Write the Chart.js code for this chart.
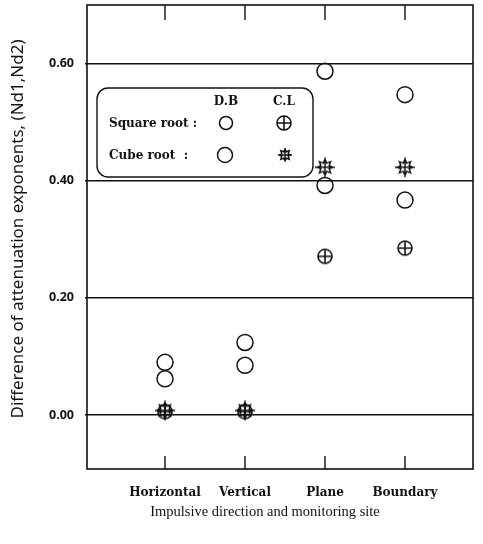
<!DOCTYPE html>
<html>
<head>
<meta charset="utf-8">
<script src="https://cdn.jsdelivr.net/npm/chart.js@4.4.1/dist/chart.umd.min.js"></script>
<style>
  html, body { margin: 0; padding: 0; background: #fff; }
  #wrap { width: 483px; height: 544px; }
</style>
</head>
<body>
<div id="wrap"><canvas id="chart"></canvas></div>
<script>
// Attenuation exponent differences
const categories = ['Horizontal', 'Vertical', 'Plane', 'Boundary'];
const categoryPos = [1, 2, 3, 4];
const squareRootDB = [0.090, 0.124, 0.587, 0.547];
const cubeRootDB = [0.062, 0.085, 0.392, 0.367];
const squareRootCL = [0.006, 0.006, 0.271, 0.285];
const cubeRootCL = [0.008, 0.008, 0.423, 0.423];
const yTickValues = [0.00, 0.20, 0.40, 0.60];

const INK = '#111';
const SERIF = '"Liberation Serif", "DejaVu Serif", serif';
const WIDE_SERIF = '"DejaVu Serif", "Liberation Serif", serif';
const SANS = '"Noto Sans", "DejaVu Sans", sans-serif';

function toPoints(values) {
    return values.map((v, i) => ({ x: categoryPos[i], y: v }));
}

// marker images
function crossedCircle(r) {
    const size = r * 2 + 4;
    const c = document.createElement('canvas');
    c.width = size; c.height = size;
    const ctx = c.getContext('2d');
    const m = size / 2;
    ctx.strokeStyle = INK;
    ctx.lineWidth = 1.6;
    ctx.beginPath();
    ctx.arc(m, m, r, 0, Math.PI * 2);
    ctx.moveTo(m - r, m); ctx.lineTo(m + r, m);
    ctx.moveTo(m, m - r); ctx.lineTo(m, m + r);
    ctx.stroke();
    return c;
}

function burstStar(outer, inner, spoke) {
    const size = spoke * 2 + 4;
    const c = document.createElement('canvas');
    c.width = size; c.height = size;
    const ctx = c.getContext('2d');
    const m = size / 2;
    ctx.strokeStyle = INK;
    ctx.lineWidth = 1.4;
    ctx.beginPath();
    for (let k = 0; k < 16; k++) {
        const a = -Math.PI / 2 + k * Math.PI / 8;
        const r = k % 2 === 0 ? outer : inner;
        const px = m + r * Math.cos(a), py = m + r * Math.sin(a);
        if (k === 0) ctx.moveTo(px, py); else ctx.lineTo(px, py);
    }
    ctx.closePath();
    ctx.moveTo(m, m - spoke); ctx.lineTo(m, m + spoke);
    ctx.moveTo(m - spoke, m); ctx.lineTo(m + spoke, m);
    ctx.stroke();
    return c;
}

const clSquareImg = crossedCircle(7);
const clCubeImg = burstStar(8, 4.5, 10);
const legendStarImg = burstStar(6, 3.5, 7);

// frame, inward ticks, legend box, axis titles
const decorations = {
    id: 'decorations',
    afterDraw(chart) {
        const { ctx, chartArea: a, scales } = chart;
        ctx.save();
        ctx.strokeStyle = INK;
        ctx.lineWidth = 1.6;
        ctx.strokeRect(a.left, a.top, a.right - a.left, a.bottom - a.top);

        ctx.lineWidth = 1.4;
        ctx.beginPath();
        categoryPos.forEach(p => {
            const x = scales.x.getPixelForValue(p);
            ctx.moveTo(x, a.top); ctx.lineTo(x, a.top + 15);
            ctx.moveTo(x, a.bottom); ctx.lineTo(x, a.bottom - 13);
        });
        ctx.stroke();

        // legend box
        const bx = 97, by = 88, bw = 216, bh = 89;
        ctx.fillStyle = '#fff';
        ctx.lineWidth = 1.4;
        ctx.beginPath();
        ctx.roundRect(bx, by, bw, bh, 11);
        ctx.fill();
        ctx.stroke();

        ctx.fillStyle = INK;
        ctx.font = 'bold 12px ' + WIDE_SERIF;
        ctx.textAlign = 'center';
        ctx.textBaseline = 'middle';
        ctx.fillText('D.B', 226, 102);
        ctx.fillText('C.L', 284, 102);
        ctx.textAlign = 'left';
        ctx.fillText('Square root :', 109, 124);
        ctx.fillText('Cube root  :', 109, 156);

        ctx.lineWidth = 1.5;
        ctx.beginPath(); ctx.arc(226, 123, 6.5, 0, Math.PI * 2); ctx.stroke();
        ctx.beginPath(); ctx.arc(225, 155, 7.5, 0, Math.PI * 2); ctx.stroke();
        ctx.drawImage(clSquareImg, 284 - clSquareImg.width / 2, 123 - clSquareImg.height / 2);
        ctx.drawImage(legendStarImg, 285 - legendStarImg.width / 2, 155 - legendStarImg.height / 2);

        // axis titles
        ctx.font = '14.5px ' + SERIF;
        ctx.textAlign = 'center';
        ctx.fillText('Impulsive direction and monitoring site', 265, 512);

        ctx.translate(18, 229);
        ctx.rotate(-Math.PI / 2);
        ctx.font = '17px ' + SANS;
        ctx.fillText('Difference of attenuation exponents, (Nd1,Nd2)', 0, 0);
        ctx.restore();
    }
};

new Chart(document.getElementById('chart'), {
    type: 'scatter',
    data: {
        datasets: [
            {
                label: 'Square root D.B',
                data: toPoints(squareRootDB),
                pointStyle: 'circle',
                pointRadius: 8,
                borderColor: INK,
                borderWidth: 1.5,
                backgroundColor: 'rgba(0,0,0,0)'
            },
            {
                label: 'Cube root D.B',
                data: toPoints(cubeRootDB),
                pointStyle: 'circle',
                pointRadius: 8,
                borderColor: INK,
                borderWidth: 1.5,
                backgroundColor: 'rgba(0,0,0,0)'
            },
            {
                label: 'Square root C.L',
                data: toPoints(squareRootCL),
                pointStyle: clSquareImg
            },
            {
                label: 'Cube root C.L',
                data: toPoints(cubeRootCL),
                pointStyle: clCubeImg
            }
        ]
    },
    options: {
        responsive: true,
        maintainAspectRatio: false,
        animation: false,
        layout: {
            autoPadding: false,
            padding: { top: 5, right: 10, left: 0, bottom: 0 }
        },
        plugins: {
            legend: { display: false },
            tooltip: { enabled: false },
            title: { display: false }
        },
        scales: {
            x: {
                type: 'linear',
                min: 0.025,
                max: 4.85,
                afterBuildTicks: scale => {
                    scale.ticks = categoryPos.map(v => ({ value: v }));
                },
                afterFit: scale => {
                    scale.height = 75;
                    scale.paddingLeft = 0;
                    scale.paddingRight = 0;
                },
                grid: { display: false, drawTicks: false },
                border: { display: false },
                ticks: {
                    color: INK,
                    font: { family: WIDE_SERIF, size: 12, weight: 'bold' },
                    padding: 17,
                    maxRotation: 0,
                    autoSkip: false,
                    callback: v => categories[categoryPos.indexOf(v)]
                }
            },
            y: {
                min: -0.092,
                max: 0.70,
                afterBuildTicks: scale => {
                    scale.ticks = yTickValues.map(v => ({ value: v }));
                },
                afterFit: scale => {
                    scale.width = 87;
                    scale.paddingTop = 0;
                    scale.paddingBottom = 0;
                },
                grid: {
                    color: INK,
                    lineWidth: 1.4,
                    tickLength: 2
                },
                border: { display: false },
                ticks: {
                    color: INK,
                    font: { family: SANS, size: 12.5, weight: 'bold' },
                    padding: 11,
                    callback: v => v.toFixed(2)
                }
            }
        }
    },
    plugins: [decorations]
});
</script>
</body>
</html>
